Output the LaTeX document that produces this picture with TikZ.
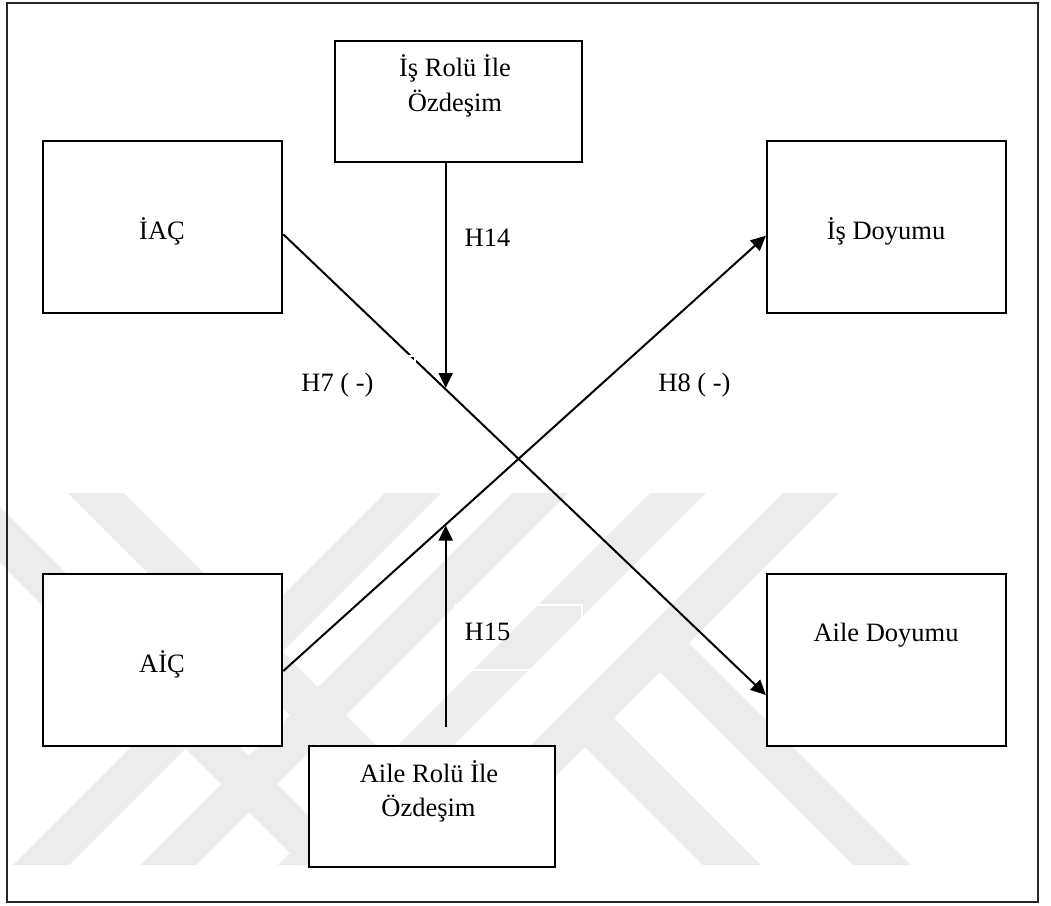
\documentclass[tikz,border=0pt]{standalone}
\usepackage{fontspec}
\setmainfont{Liberation Serif}
\usetikzlibrary{arrows.meta}
\definecolor{wm}{gray}{0.925}
\tikzset{
  box/.style={draw=black, line width=2pt, fill=white, inner sep=0pt},
  lbl/.style={anchor=base, inner sep=0pt, font=\fontsize{26.5}{35}\selectfont},
  conn/.style={line width=2pt, -{Triangle[length=15pt,width=14pt]}},
  stripe/.style={fill=wm, draw=none},
  ghost/.style={draw=white, line width=1.4pt}
}
\begin{document}
\begin{tikzpicture}[x=1pt,y=-1pt]
\useasboundingbox (0,0) rectangle (1051,905);
% watermark
\begin{scope}
\clip (0,0) rectangle (1051,905);
\fill[stripe] (385,493) -- (441,493) -- (69,865) -- (13,865) -- cycle;
\fill[stripe] (512,493) -- (568,493) -- (196,865) -- (140,865) -- cycle;
\fill[stripe] (650,493) -- (706,493) -- (334,865) -- (278,865) -- cycle;
\fill[stripe] (783,493) -- (839,493) -- (467,865) -- (411,865) -- cycle;
\fill[stripe] (-70,493) -- (-14,493) -- (358,865) -- (302,865) -- cycle;
\fill[stripe] (68,493) -- (124,493) -- (496,865) -- (440,865) -- cycle;
\fill[stripe] (572.5,734.5) -- (601.5,705.5) -- (761,865) -- (703,865) -- cycle;
\fill[stripe] (647.5,659.5) -- (676.5,630.5) -- (911,865) -- (853,865) -- cycle;
\end{scope}
% outer frame
\draw[black!85, line width=1.6pt] (7,3) rectangle (1038,902);
% boxes
\node[box, minimum width=247pt, minimum height=121.6pt] (irol) at (458.5,101.5) {};
\node[box, minimum width=239pt, minimum height=172.3pt] (iac) at (162.8,227.2) {};
\node[box, minimum width=238.7pt, minimum height=172.3pt] (isd) at (886.3,227.2) {};
\node[box, minimum width=239pt, minimum height=171.7pt] (aic) at (162.8,660.2) {};
\node[box, minimum width=238.7pt, minimum height=171.7pt] (ad) at (886.3,660.2) {};
\node[box, minimum width=246pt, minimum height=121.3pt] (arol) at (432,806.7) {};
% box texts
\node[lbl] (irolA) at (455,76) {İş Rolü İle};
\node[lbl] (irolB) at (455,111) {Özdeşim};
\node[lbl] (iacT) at (162,239.3) {İAÇ};
\node[lbl] (isdT) at (886,239.3) {İş Doyumu};
\node[lbl] (aicT) at (162,672.7) {AİÇ};
\node[lbl] (adT) at (886,641.7) {Aile Doyumu};
\node[lbl] (arolA) at (429,782) {Aile Rolü İle};
\node[lbl] (arolB) at (428.5,816.7) {Özdeşim};
% connectors
\draw[conn] ([yshift=-7.1pt]iac.east) -- ([yshift=-34.8pt]ad.west);
\draw[conn] ([yshift=-10.8pt]aic.east) -- ([yshift=-8.5pt]isd.west);
\coordinate (t14) at (445.7,388);
\coordinate (b15) at (445.7,726.7);
\coordinate (t15) at (445.7,525.5);
\draw[conn] ([xshift=-12.8pt]irol.south) -- (t14);
\draw[conn] (b15) -- (t15);
% faint text-box outlines
\draw[ghost] (300,356) rectangle (415,412);
\draw[ghost] (455,605) rectangle (582,670);
% labels
\node[lbl] (h14) at (487.5,246.7) {H14};
\node[lbl] (h7) at (337.5,391.7) {H7 ( -)};
\node[lbl] (h8) at (694.5,391.7) {H8 ( -)};
\node[lbl] (h15) at (487.5,640.7) {H15};
\end{tikzpicture}
\end{document}
